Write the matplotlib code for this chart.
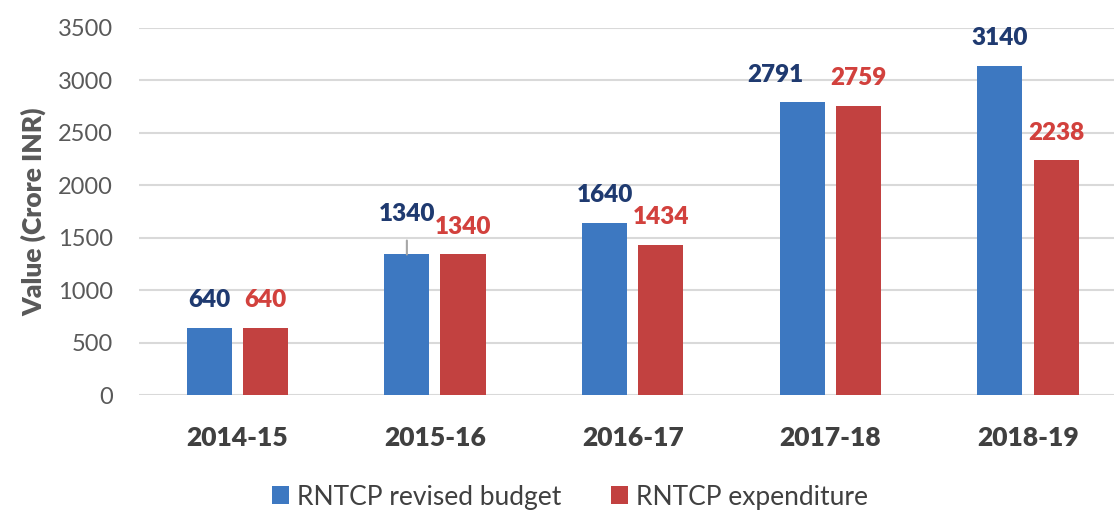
import matplotlib
matplotlib.use("Agg")
import matplotlib.pyplot as plt
import numpy as np

categories = ["2014-15", "2015-16", "2016-17", "2017-18", "2018-19"]
budget = [640, 1340, 1640, 2791, 3140]
expenditure = [640, 1340, 1434, 2759, 2238]
series_names = ["RNTCP revised budget", "RNTCP expenditure"]
yticks = [0, 500, 1000, 1500, 2000, 2500, 3000, 3500]

plt.rcParams['font.family'] = ['Lato', 'DejaVu Sans']

blue = '#3D78C1'
red = '#C24140'
blue_txt = '#1F3A70'
red_txt = '#D2413D'
gray_txt = '#595959'

fig = plt.figure(figsize=(11.14, 5.13), dpi=100)
ax = fig.add_axes([139/1114, 1-395/513, 1-139/1114, (395-28)/513])

x = np.arange(len(categories))
w = 0.228
off = 0.142
b1 = ax.bar(x - off, budget, w, color=blue, label=series_names[0], zorder=3)
b2 = ax.bar(x + off, expenditure, w, color=red, label=series_names[1], zorder=3)

ax.set_ylim(0, 3500)
ax.set_xlim(-0.497, 4.435)
ax.set_yticks(yticks)
ax.set_yticklabels([str(v) for v in yticks])
ax.yaxis.grid(True, color='#D9D9D9', linewidth=1.5, zorder=0)
ax.set_axisbelow(True)
for s in ax.spines.values():
    s.set_visible(False)
ax.tick_params(axis='y', length=0, pad=19, labelsize=17, labelcolor=gray_txt)
ax.set_xticks(x)
ax.set_xticklabels(categories, fontsize=19, fontweight='heavy', color='#404040')
ax.tick_params(axis='x', length=0, pad=22)
ax.set_ylabel("Value (Crore INR)", fontsize=19, fontweight='heavy', color=gray_txt, labelpad=8)

lab_kw = dict(textcoords='offset points', ha='center', va='center',
              fontsize=17.5, fontweight='heavy')
# label placement offsets (points) as in the original chart
budget_offsets = [(0, 20), (0, 29), (0, 20), (-19.5, 20), (0, 20)]
for i, (xb, v) in enumerate(zip(x - off, budget)):
    if i == 1:
        ax.annotate(str(v), xy=(xb, v), xytext=budget_offsets[i], color=blue_txt,
                    arrowprops=dict(arrowstyle='-', color='#A6A6A6', lw=1.5, shrinkA=9, shrinkB=0),
                    **lab_kw)
    else:
        ax.annotate(str(v), xy=(xb, v), xytext=budget_offsets[i], color=blue_txt, **lab_kw)
for xb, v in zip(x + off, expenditure):
    ax.annotate(str(v), xy=(xb, v), xytext=(0, 20), color=red_txt, **lab_kw)

leg = fig.legend(handles=[b1, b2], labels=series_names, loc='center',
                 bbox_to_anchor=(570/1114, 1-497/513), ncol=2, frameon=False,
                 fontsize=19, handlelength=0.65, handleheight=0.65, handletextpad=0.3,
                 columnspacing=1.9)
for t in leg.get_texts():
    t.set_color('#404040')

fig.savefig("out.png", dpi=100)
